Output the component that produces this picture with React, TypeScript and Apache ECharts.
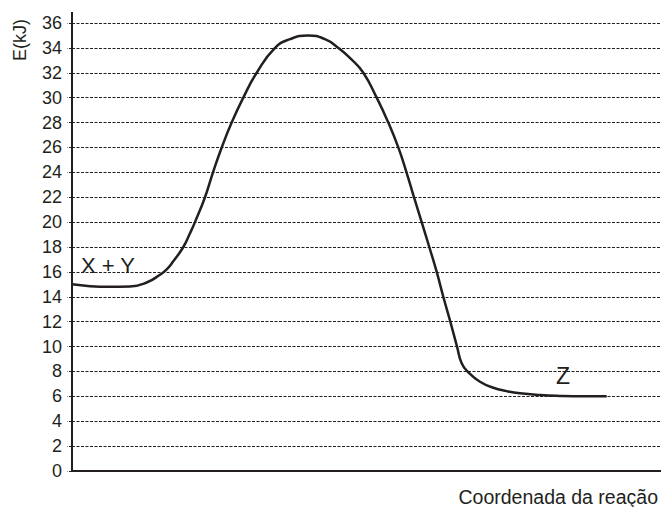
import React, { useEffect, useRef } from "react";
import * as echarts from "echarts";

// Reaction coordinate (0–100) and energy (kJ)
const coordX: number[] = [
  0, 3.06, 6.45, 9.85, 12.68, 14.94, 16.08, 17.2, 18.9, 20.03, 20.88, 22.58, 23.94,
  25.42, 27.11, 29.08, 31.36, 34.47, 37.0, 40.12, 42.95, 45.21, 47.4, 49.46, 51.73, 53.7,
  55.4, 56.79, 58.06, 59.37, 60.66, 61.92, 63.04, 64.23, 65.37, 66.16, 67.28, 69.27,
  71.53, 73.8, 76.06, 79.46, 82.85, 87.1, 90.78,
];
const energy: number[] = [
  15.0, 14.85, 14.8, 14.83, 15.15, 15.77, 16.2, 16.85, 18.0, 19.1, 20.0, 22.0, 24.0,
  26.0, 28.0, 30.0, 32.0, 34.0, 34.7, 35.0, 34.7, 34.0, 33.1, 32.0, 30.0, 28.0,
  26.0, 24.0, 22.0, 20.0, 18.0, 16.0, 14.0, 12.0, 10.0, 8.66, 7.93, 7.17,
  6.69, 6.42, 6.24, 6.1, 6.03, 6.0, 6.0,
];
const yMin = 0;
const yMax = 36;
const yStep = 2;
const yTitle = "E(kJ)";
const xTitle = "Coordenada da reação";
const reactantLabel = "X + Y";
const productLabel = "Z";

const INK = "#231f20";
const FONT = "'Liberation Sans', Arial, sans-serif";

export default function App() {
  const ref = useRef<HTMLDivElement>(null);
  useEffect(() => {
    if (!ref.current) return;
    const chart = echarts.init(ref.current, undefined, { renderer: "svg" });
    const data = coordX.map((x, i) => [x, energy[i]]);
    chart.setOption({
      animation: false,
      grid: { left: 72, right: 0, top: 23, bottom: 36 },
      xAxis: {
        type: "value",
        min: 0,
        max: 100,
        axisLine: { show: true, lineStyle: { color: INK, width: 2 } },
        axisTick: { show: false },
        axisLabel: { show: false },
        splitLine: { show: false },
      },
      yAxis: {
        type: "value",
        min: yMin,
        max: yMax,
        interval: yStep,
        axisLine: { show: true, lineStyle: { color: INK, width: 2 } },
        axisTick: {
          show: true,
          length: 5,
          lineStyle: { color: INK, width: 1, type: [3, 1.5] },
        },
        axisLabel: {
          color: INK,
          fontSize: 18,
          fontFamily: FONT,
          margin: 10,
        },
        splitLine: {
          show: true,
          lineStyle: { color: INK, width: 1, type: [3, 1.5] },
        },
      },
      series: [
        {
          type: "line",
          data,
          showSymbol: false,
          smooth: 0.5,
          lineStyle: { color: INK, width: 2.5 },
          z: 5,
        },
      ],
      graphic: [
        {
          type: "line",
          shape: { x1: 72, y1: 12, x2: 72, y2: 24 },
          style: { stroke: INK, lineWidth: 2 },
        },
        {
          type: "text",
          x: 20,
          y: 40,
          rotation: Math.PI / 2,
          style: {
            text: yTitle,
            fill: INK,
            fontSize: 18,
            fontFamily: FONT,
            align: "center",
            verticalAlign: "middle",
          },
        },
        {
          type: "text",
          x: 658,
          y: 497,
          style: {
            text: xTitle,
            fill: INK,
            fontSize: 19.5,
            fontFamily: FONT,
            align: "right",
            verticalAlign: "middle",
          },
        },
        {
          type: "text",
          x: 81,
          y: 265,
          z: 10,
          style: {
            text: reactantLabel,
            fill: INK,
            fontSize: 22,
            fontFamily: FONT,
            align: "left",
            verticalAlign: "middle",
          },
        },
        {
          type: "text",
          x: 563,
          y: 376,
          z: 10,
          style: {
            text: productLabel,
            fill: INK,
            fontSize: 23,
            fontFamily: FONT,
            align: "center",
            verticalAlign: "middle",
          },
        },
      ],
    });
    return () => chart.dispose();
  }, []);
  return <div ref={ref} style={{ width: 661, height: 507, position: "absolute", left: 0, top: 0 }} />;
}
